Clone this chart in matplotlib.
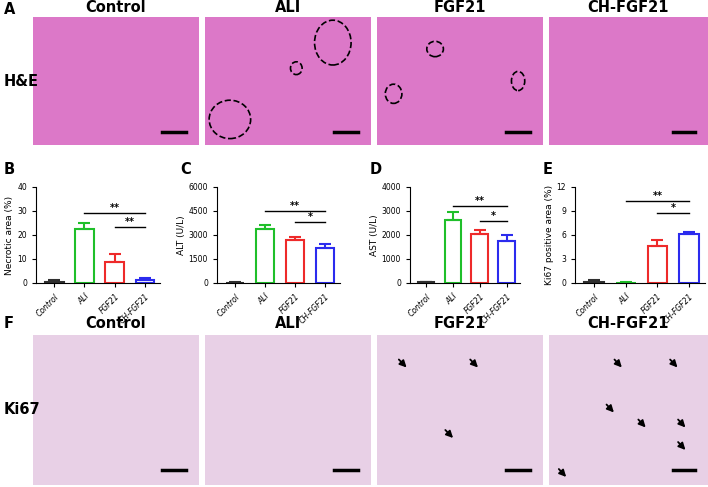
import matplotlib
matplotlib.use("Agg")
from matplotlib import pyplot as plt
from matplotlib.patches import Ellipse

groups = ["Control", "ALI", "FGF21", "CH-FGF21"]
colors = ["#303030", "#1fbf2a", "#ee2a2a", "#2b2bee"]

necrotic = [0.5, 22.7, 8.6, 1.2]
necrotic_err = [0.7, 2.3, 3.5, 0.9]
alt = [30, 3350, 2700, 2200]
alt_err = [30, 250, 180, 250]
ast = [30, 2620, 2060, 1750]
ast_err = [30, 320, 160, 230]
ki67 = [0.15, 0.05, 4.6, 6.1]
ki67_err = [0.2, 0.1, 0.8, 0.3]

W, H = 708, 487
fig = plt.figure(figsize=(W / 100, H / 100), dpi=100)
fig.patch.set_facecolor("white")


def px_axes(x0, y0, x1, y1):
    return fig.add_axes([x0 / W, 1 - y1 / H, (x1 - x0) / W, (y1 - y0) / H])


# histology image rows (drawn as plain tinted panels)
img_cols = [(33, 199), (205, 371), (377, 543), (549, 708)]
he_color = "#dc78c8"
ki_color = "#e8d0e6"
rows = [(17, 145, 8, he_color, "H&E"), (335, 485, 324, ki_color, "Ki67")]
for row, (y0, y1, ty, col, lab) in enumerate(rows):
    for i, (x0, x1) in enumerate(img_cols):
        ax = px_axes(x0, y0, x1, y1)
        ax.set_facecolor(col)
        ax.set_xlim(0, 1)
        ax.set_ylim(0, 1)
        ax.set_xticks([])
        ax.set_yticks([])
        for s in ax.spines.values():
            s.set_visible(False)
        ax.plot([0.78, 0.92], [0.1, 0.1], color="black", lw=2.5)
        if row == 0 and i in (1, 2):
            spots = [(0.15, 0.2, 0.25, 0.3), (0.77, 0.8, 0.22, 0.35), (0.55, 0.6, 0.07, 0.1)] if i == 1 else \
                    [(0.1, 0.4, 0.1, 0.15), (0.85, 0.5, 0.08, 0.15), (0.35, 0.75, 0.1, 0.12)]
            for cx, cy, w, h in spots:
                ax.add_patch(Ellipse((cx, cy), w, h, fill=False, ls="--", lw=1.2, color="black"))
        if row == 1 and i >= 2:
            arrows = [(0.12, 0.85), (0.55, 0.85), (0.4, 0.38)] if i == 2 else \
                     [(0.4, 0.85), (0.75, 0.85), (0.35, 0.55), (0.55, 0.45), (0.8, 0.45), (0.8, 0.3), (0.05, 0.12)]
            for ax_, ay in arrows:
                ax.annotate("", xy=(ax_ + 0.07, ay - 0.08), xytext=(ax_, ay),
                            arrowprops=dict(arrowstyle="-|>", color="black", lw=1.3))
    for (x0, x1), g in zip(img_cols, groups):
        fig.text((x0 + x1) / 2 / W, 1 - ty / H, g, ha="center", va="center",
                 fontsize=10.5, fontweight="bold")
    fig.text(4 / W, 1 - ((y0 + y1) / 2) / H, lab, fontsize=10.5, fontweight="bold", va="center")

fig.text(4 / W, 1 - 9 / H, "A", fontsize=10.5, fontweight="bold", va="center")
fig.text(4 / W, 1 - 324 / H, "F", fontsize=10.5, fontweight="bold", va="center")

charts = [
    ("B", 4, 36, 160, necrotic, necrotic_err, 40, 10, "Necrotic area (%)",
     [(1, 3, 29, "**"), (2, 3, 23.5, "**")]),
    ("C", 180, 217, 340, alt, alt_err, 6000, 1500, "ALT (U/L)",
     [(1, 3, 4500, "**"), (2, 3, 3800, "*")]),
    ("D", 370, 410, 520, ast, ast_err, 4000, 1000, "AST (U/L)",
     [(1, 3, 3200, "**"), (2, 3, 2600, "*")]),
    ("E", 543, 575, 705, ki67, ki67_err, 12, 3, "Ki67 positive area (%)",
     [(1, 3, 10.3, "**"), (2, 3, 8.8, "*")]),
]
for letter, lx, x0, x1, vals, errs, ymax, step, ylab, sigs in charts:
    ax = px_axes(x0, 187, x1, 283)
    xs = range(len(groups))
    ax.bar(xs, vals, width=0.62, facecolor="white", edgecolor=colors, linewidth=1.5)
    for x, v, e, c in zip(xs, vals, errs, colors):
        ax.errorbar(x, v, yerr=[[0], [e]], color=c, capsize=4, lw=1.5, capthick=1.5)
    for a, b, y, s in sigs:
        ax.plot([a, b], [y, y], color="black", lw=1)
        ax.text((a + b) / 2, y, s, ha="center", va="bottom", fontsize=7, fontweight="bold")
    ax.set_ylim(0, ymax)
    ax.set_xlim(-0.6, 3.5)
    ax.set_yticks(range(0, ymax + 1, step))
    ax.set_xticks(list(xs))
    ax.set_xticklabels(groups, rotation=45, ha="right", rotation_mode="anchor",
                       style="italic", fontsize=5.5)
    ax.tick_params(axis="y", labelsize=5.5, length=3)
    ax.tick_params(axis="x", length=3)
    ax.set_ylabel(ylab, fontsize=6.5, labelpad=2)
    ax.spines["top"].set_visible(False)
    ax.spines["right"].set_visible(False)
    fig.text(lx / W, 1 - 170 / H, letter, fontsize=10.5, fontweight="bold", va="center")

fig.savefig("out.png", dpi=100)
